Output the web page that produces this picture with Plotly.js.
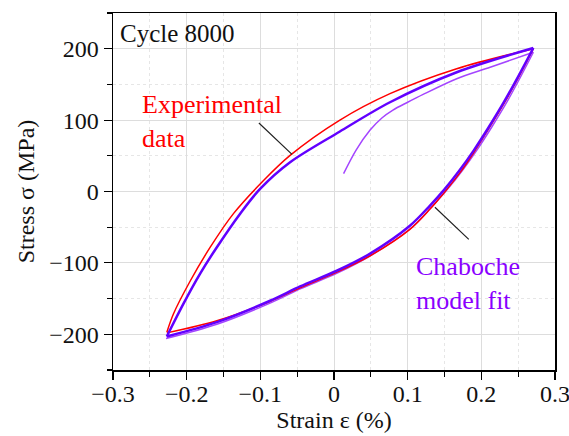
<!DOCTYPE html>
<html><head><meta charset="utf-8">
<script src="https://cdn.plot.ly/plotly-3.0.1.min.js"></script>
<style>html,body{margin:0;padding:0;background:#fff}#chart{width:569px;height:436px}</style>
</head><body><div id="chart"></div>
<script>
// Experimental data (red): unloading branch (tip -> bottom) and reloading branch (bottom -> tip)
const expDownStrain = [0.2706, 0.25, 0.23, 0.21, 0.19, 0.17, 0.15, 0.13, 0.103, 0.049, 0.004, -0.046, -0.087, -0.159, -0.2269];
const expDownStress = [200, 159, 122, 88, 55, 25, -1, -25, -53, -90, -113, -135, -154, -181, -198];
const expUpStrain = [-0.2269, -0.218, -0.195, -0.168, -0.1365, -0.096, -0.0596, 0.008, 0.076, 0.1666, 0.2706];
const expUpStress = [-197, -171.5, -125, -78, -31, 15, 50.5, 100, 137, 172, 200];

// Chaboche model fit - stabilised loop (thick)
const fitDownStrain = [0.2706, 0.25, 0.23, 0.21, 0.19, 0.17, 0.15, 0.13, 0.103, 0.049, 0.0038, -0.046, -0.0867, -0.159, -0.227];
const fitDownStress = [201, 161, 124, 90, 58, 29, 3, -20, -48, -87, -111, -133, -153, -183, -203];
const fitUpStrain = [-0.227, -0.2043, -0.1817, -0.159, -0.1274, -0.1, -0.0596, 0.008, 0.076, 0.1666, 0.2706];
const fitUpStress = [-203, -157, -115, -78, -31, 4, 41, 84, 125, 167, 201];

// Chaboche model fit - initial loading and first reversal (thin)
const fitInitStrain = [0.013, 0.03, 0.049, 0.065, 0.08, 0.1, 0.121, 0.1666, 0.212, 0.2706];
const fitInitStress = [25, 58, 86, 103, 114, 125, 136, 158, 174, 195];
const fitRevStrain = [0.2706, 0.253, 0.234, 0.214, 0.194, 0.174, 0.154, 0.134, 0.106, 0.051, 0.005, -0.045, -0.086, -0.159, -0.228];
const fitRevStress = [195, 160, 124, 90, 58, 29, 3, -20, -50, -89, -114, -136, -156, -186, -206];

const xTicks = [-0.3, -0.2, -0.1, 0, 0.1, 0.2, 0.3];
const yTicks = [-200, -100, 0, 100, 200];

const FONT = 'Liberation Serif, serif';
const RED = '#ff0000', THICK = '#6200ff', THIN = '#a445ff';
function line(x, y, color, width) {
  return {x: x, y: y, mode: 'lines', line: {color: color, width: width, shape: 'spline', smoothing: 0.9}, hoverinfo: 'skip'};
}
const traces = [
  line(fitInitStrain, fitInitStress, THIN, 1.5),
  line(fitRevStrain, fitRevStress, THIN, 1.5),
  line(expDownStrain, expDownStress, RED, 1.5),
  line(expUpStrain, expUpStress, RED, 1.5),
  line(fitDownStrain, fitDownStress, THICK, 2.5),
  line(fitUpStrain, fitUpStress, THICK, 2.5)
];

const axisCommon = {
  showline: true, linecolor: '#000', linewidth: 1.5, mirror: true,
  ticks: 'outside', ticklen: 8, tickwidth: 1.2, tickcolor: '#000',
  showgrid: true, gridcolor: '#dddddd', gridwidth: 1, zeroline: false,
  ticklabeloverflow: 'allow',
  tickfont: {family: FONT, size: 24, color: '#111'}
};

const layout = {
  width: 569, height: 436,
  margin: {l: 113, r: 14, t: 13, b: 66},
  paper_bgcolor: '#fff', plot_bgcolor: '#fff',
  showlegend: false,
  font: {family: FONT, color: '#111'},
  xaxis: Object.assign({}, axisCommon, {
    range: [-0.3, 0.3], tickvals: xTicks, ticktext: xTicks.map(v => v === 0 ? '0' : (v < 0 ? '\u2212' + Math.abs(v).toFixed(1) : v.toFixed(1))),
    ticklabelstandoff: -6,
    minor: {dtick: 0.05, ticks: 'outside', ticklen: 5, tickcolor: '#000', showgrid: true, gridcolor: '#e6e6e6', griddash: 'dot'},
    title: {text: 'Strain \u03b5 (%)', font: {family: FONT, size: 24, color: '#111'}, standoff: 2}
  }),
  yaxis: Object.assign({}, axisCommon, {
    range: [-250, 250], tickvals: yTicks, ticktext: yTicks.map(v => v < 0 ? '\u2212' + Math.abs(v) : String(v)),
    minor: {dtick: 50, ticks: 'outside', ticklen: 5, tickcolor: '#000', showgrid: true, gridcolor: '#e6e6e6', griddash: 'dot'},
    title: {text: 'Stress \u03c3 (MPa)', font: {family: FONT, size: 24, color: '#111'}, standoff: 8}
  }),
  annotations: [
    {xref: 'paper', yref: 'paper', x: 0.012, y: 0.985, xanchor: 'left', yanchor: 'top', showarrow: false,
     text: 'Cycle 8000', font: {family: FONT, size: 25, color: '#111'}},
    {xref: 'x', yref: 'y', x: -0.264, y: 145, xanchor: 'left', yanchor: 'top', showarrow: false, align: 'left',
     text: 'Experimental<br>data', font: {family: FONT, size: 26, color: RED}},
    {xref: 'x', yref: 'y', x: 0.108, y: -82, xanchor: 'left', yanchor: 'top', showarrow: false, align: 'left',
     text: 'Chaboche<br>model fit', font: {family: FONT, size: 26, color: '#8a00ff'}},
    {xref: 'x', yref: 'y', axref: 'x', ayref: 'y', x: -0.057, y: 52, ax: -0.104, ay: 98,
     showarrow: true, arrowhead: 0, arrowwidth: 1.2, arrowcolor: '#222', text: ''},
    {xref: 'x', yref: 'y', axref: 'x', ayref: 'y', x: 0.137, y: -22, ax: 0.185, ay: -69,
     showarrow: true, arrowhead: 0, arrowwidth: 1.2, arrowcolor: '#222', text: ''}
  ]
};

Plotly.newPlot('chart', traces, layout, {staticPlot: true, displayModeBar: false});
</script></body></html>
